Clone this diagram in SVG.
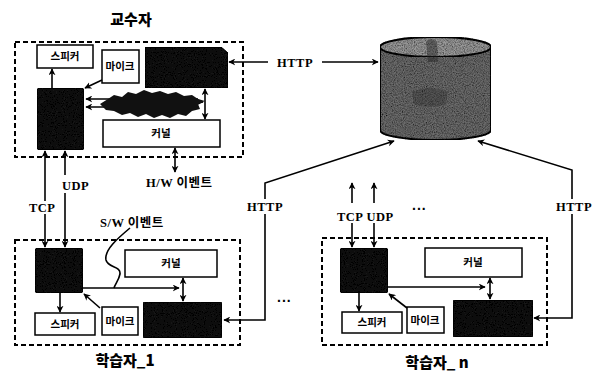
<svg xmlns="http://www.w3.org/2000/svg" width="600" height="379" viewBox="0 0 600 379">
  <defs>
    <marker id="ah" viewBox="0 0 10 10" refX="9" refY="5" markerWidth="7" markerHeight="7" orient="auto-start-reverse" markerUnits="userSpaceOnUse">
      <path d="M0,0 L10,5 L0,10 L3,5 Z" fill="#000"/>
    </marker>
    <filter id="grain" x="0" y="0" width="100%" height="100%">
      <feTurbulence type="fractalNoise" baseFrequency="0.9" numOctaves="2" seed="3" result="n"/>
      <feColorMatrix in="n" type="matrix" values="0 0 0 0 0  0 0 0 0 0  0 0 0 0 0  0 0 0 -1.6 1.1" result="d"/>
      <feComposite in="d" in2="SourceGraphic" operator="in" result="dots"/>
      <feMerge><feMergeNode in="SourceGraphic"/><feMergeNode in="dots"/></feMerge>
    </filter>
  </defs>
  <style>
    .frame { fill: none; stroke: #000; stroke-width: 2; stroke-dasharray: 5 3; }
    .box { fill: #fff; stroke: #000; stroke-width: 1.5; }
    .blk { fill: #151515; stroke: #000; stroke-width: 1; }
    .ln { fill: none; stroke: #000; stroke-width: 1.6; }
    .arr { fill: none; stroke: #000; stroke-width: 1.6; marker-end: url(#ah); }
    .arr2 { fill: none; stroke: #000; stroke-width: 1.6; marker-start: url(#ah); marker-end: url(#ah); }
    .lbl { font-family: "Liberation Serif", "Noto Sans CJK KR", serif; font-weight: bold; font-size: 12.5px; letter-spacing: 0.5px; }
    .dots { font-family: "Liberation Sans", sans-serif; font-weight: bold; font-size: 14px; letter-spacing: 1px; }
    .kr { font-family: "Noto Sans CJK KR", "Noto Sans", sans-serif; font-weight: bold; font-size: 10.5px; text-anchor: middle; }
    .ttl { font-family: "Noto Sans CJK KR", "Noto Sans", sans-serif; font-weight: 900; font-size: 15px; text-anchor: middle; }
  </style>

  <rect width="600" height="379" fill="#fff"/>

  <!-- titles -->
  <text class="ttl" x="131" y="25">교수자</text>
  <text class="ttl" x="125" y="366">학습자_1</text>
  <text class="ttl" x="437" y="368">학습자_ n</text>

  <!-- teacher side -->
  <g id="teacher">
    <rect class="frame" x="15" y="42" width="228" height="115"/>
    <g id="t-speaker"><rect class="box" x="37" y="45" width="56" height="23"/><text class="kr" x="65" y="60">스피커</text></g>
    <g id="t-mic"><rect class="box" x="102" y="50" width="37" height="33"/><text class="kr" x="120" y="70">마이크</text></g>
    <g id="t-app"><path class="blk" d="M145,47 H221 L228,53 V88 H145 Z" filter="url(#grain)"/></g>
    <g id="t-core"><rect class="blk" x="37" y="88" width="47" height="62" rx="3" filter="url(#grain)"/></g>
    <g id="t-kernel"><rect class="box" x="103" y="120" width="117" height="27"/><text class="kr" x="161" y="137">커널</text></g>
  </g>

  <!-- server storage -->
  <g id="server">
    <path d="M380,47 V130 A55.5,10 0 0 0 491,130 V47 Z" fill="#6c6c6c" stroke="#111" stroke-width="2" filter="url(#grain)"/>
    <ellipse cx="435.5" cy="47" rx="55.5" ry="10" fill="#9a9a9a" stroke="#111" stroke-width="2" filter="url(#grain)"/>
    <path d="M426,42 Q431,36 437,42 L438,62 L428,62 Z" fill="#222" opacity="0.45"/>
    <path d="M412,92 Q430,84 448,92 L446,104 Q430,110 414,104 Z" fill="#222" opacity="0.3"/>
  </g>

  <!-- learner 1 -->
  <g id="learner1">
    <rect class="frame" x="15" y="240" width="225" height="105"/>
    <g id="l1-core"><rect class="blk" x="35" y="248" width="48" height="45" rx="3" filter="url(#grain)"/></g>
    <g id="l1-kernel"><rect class="box" x="125" y="250" width="92" height="27"/><text class="kr" x="171" y="267">커널</text></g>
    <g id="l1-app"><rect class="blk" x="143" y="302" width="79" height="36" rx="2" filter="url(#grain)"/></g>
    <g id="l1-speaker"><rect class="box" x="35" y="313" width="60" height="22"/><text class="kr" x="65" y="328">스피커</text></g>
    <g id="l1-mic"><rect class="box" x="102" y="307" width="36" height="28"/><text class="kr" x="120" y="325">마이크</text></g>
  </g>

  <!-- learner n -->
  <g id="learnerN">
    <rect class="frame" x="322" y="238" width="225" height="107"/>
    <g id="ln-core"><rect class="blk" x="340" y="248" width="48" height="45" rx="3" filter="url(#grain)"/></g>
    <g id="ln-kernel"><rect class="box" x="425" y="248" width="97" height="29"/><text class="kr" x="473" y="266">커널</text></g>
    <g id="ln-app"><rect class="blk" x="453" y="300" width="80" height="37" rx="2" filter="url(#grain)"/></g>
    <g id="ln-speaker"><rect class="box" x="342" y="312" width="60" height="21"/><text class="kr" x="372" y="326">스피커</text></g>
    <g id="ln-mic"><rect class="box" x="407" y="307" width="37" height="26"/><text class="kr" x="425" y="324">마이크</text></g>
  </g>

  <!-- connectors -->
  <g id="connectors">
    <!-- teacher internals -->
    <line class="arr" x1="52" y1="88" x2="52" y2="69"/>
    <line class="arr" x1="102" y1="80" x2="85" y2="88"/>
    <line class="arr" x1="198" y1="99" x2="86" y2="99"/>
    <line class="arr" x1="198" y1="107" x2="86" y2="107"/>
    <line class="arr" x1="150" y1="102" x2="203" y2="102"/>
    <path d="M100,104 L108,99 L114,95 L122,97 L128,92 L136,94 L144,90 L152,93 L160,91 L168,94 L176,92 L184,96 L192,95 L198,99 L205,101 L198,104 L200,109 L192,111 L186,116 L178,114 L170,118 L162,115 L154,118 L146,114 L138,117 L130,113 L122,115 L114,111 L106,110 Z" fill="#111"/>
    <line class="arr2" x1="205" y1="89" x2="205" y2="119"/>
    <line class="arr2" x1="175" y1="148" x2="175" y2="172"/>

    <!-- teacher to server -->
    <line class="arr" x1="268" y1="62" x2="229" y2="62"/>
    <line class="arr" x1="322" y1="62" x2="378" y2="62"/>

    <!-- TCP / UDP between teacher and learner 1 -->
    <line class="arr" x1="45" y1="201" x2="45" y2="151"/>
    <line class="arr" x1="45" y1="214" x2="45" y2="247"/>
    <line class="arr" x1="65" y1="175" x2="65" y2="151"/>
    <line class="arr" x1="65" y1="193" x2="65" y2="247"/>

    <!-- learner 1 internals -->
    <line class="arr" x1="60" y1="293" x2="60" y2="312"/>
    <line class="arr" x1="100" y1="308" x2="84" y2="294"/>
    <line class="arr" x1="83" y1="288" x2="179" y2="288"/>
    <line class="arr2" x1="183" y1="278" x2="183" y2="301"/>
    <path class="ln" d="M130,228 C118,238 104,250 106,260 C108,268 121,266 120,274 C119,280 115,284 114,288"/>

    <!-- learner 1 to server -->
    <polyline class="arr" points="265,199 265,183 394,141"/>
    <polyline class="arr" points="265,214 265,320 224,320"/>

    <!-- learner n internals -->
    <line class="arr" x1="359" y1="293" x2="359" y2="311"/>
    <line class="arr" x1="407" y1="308" x2="389" y2="294"/>
    <line class="arr" x1="388" y1="287" x2="485" y2="287"/>
    <line class="arr2" x1="490" y1="278" x2="490" y2="299"/>

    <!-- learner n network -->
    <line class="arr" x1="352" y1="203" x2="352" y2="183"/>
    <line class="arr" x1="374" y1="203" x2="374" y2="183"/>
    <line class="arr" x1="352" y1="223" x2="352" y2="247"/>
    <line class="arr" x1="374" y1="223" x2="374" y2="247"/>

    <!-- learner n to server -->
    <polyline class="arr" points="572,199 572,170 478,141"/>
    <polyline class="arr" points="572,214 572,318 534,318"/>
  </g>

  <!-- connector labels -->
  <g id="labels">
    <text class="lbl" x="277" y="67">HTTP</text>
    <text class="lbl" x="146" y="187">H/W 이벤트</text>
    <text class="lbl" x="62" y="190">UDP</text>
    <text class="lbl" x="29" y="212">TCP</text>
    <text class="lbl" x="100" y="227">S/W 이벤트</text>
    <text class="lbl" x="247" y="211">HTTP</text>
    <text class="lbl" x="337" y="221">TCP UDP</text>
    <text class="lbl" x="556" y="211">HTTP</text>
    <text class="dots" x="412" y="210">...</text>
    <text class="dots" x="277" y="302">...</text>
  </g>
</svg>
